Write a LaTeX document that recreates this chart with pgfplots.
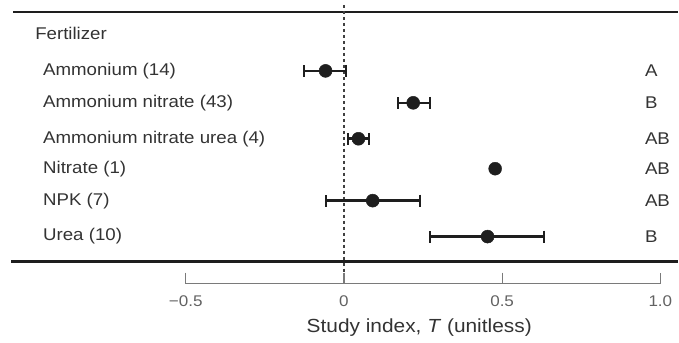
\documentclass[border=0pt]{standalone}
\usepackage{fontspec}
\setmainfont[FakeStretch=1.1]{Liberation Sans}
\usepackage{pgfplots}
\usepackage{pgfplotstable}
\pgfplotsset{compat=1.18}
\definecolor{ink}{HTML}{1E1E1E}
\definecolor{txt}{HTML}{333333}
\definecolor{tick}{HTML}{7A7A7A}
\pgfplotstableread{
x y ep em
-0.058 71 0.065 0.068
0.219 103 0.054 0.047
0.046 139 0.034 0.032
0.091 201 0.149 0.147
0.454 237 0.178 0.182
}\withci
\pgfplotstableread{
x y
0.478 169
}\noci
\begin{document}
\begin{tikzpicture}
\begin{axis}[
  scale only axis, width=679pt, height=343pt,
  xmin=-1.0868, xmax=1.0552, ymin=0, ymax=343, y dir=reverse,
  axis lines=none, clip=false,
]
\path (rel axis cs:0,0) rectangle (rel axis cs:1,1);
% rules
\draw[ink, line width=2.4pt] (axis cs:-1.045,12) -- (axis cs:1.0552,12);
\draw[ink, line width=2.4pt] (axis cs:-1.052,262) -- (axis cs:1.0552,262);
% zero line
\draw[ink!85, line width=1.3pt, dash pattern=on 3.5pt off 2.5pt] (axis cs:0,5) -- (axis cs:0,285);
% bottom scale
\draw[tick, line width=1.2pt] (axis cs:-0.5,273) -- (axis cs:-0.5,284) -- (axis cs:1.0,284) -- (axis cs:1.0,273);
\draw[tick, line width=1.2pt] (axis cs:0,273) -- (axis cs:0,284);
\draw[tick, line width=1.2pt] (axis cs:0.5,273) -- (axis cs:0.5,284);
\foreach \v/\t in {-0.5/{−0.5},0/0,0.5/0.5,1.0/1.0}{
  \edef\temp{\noexpand\node[text=tick!80!black, font=\noexpand\fontsize{15.5}{17}\noexpand\selectfont, anchor=center] at (axis cs:\v,302) {\t};}
  \temp
}
\node[text=txt, font=\fontsize{19}{22}\selectfont] at (axis cs:0.238,328) {Study index, \textit{T} (unitless)};
% row labels
\begin{scope}[every node/.style={text=txt, font=\fontsize{17}{20}\selectfont, anchor=west, inner sep=0pt}]
\node at (axis cs:-0.976,33) {Fertilizer};
\node at (axis cs:-0.951,71) {Ammonium (14)};
\node at (axis cs:-0.951,103) {Ammonium nitrate (43)};
\node at (axis cs:-0.951,139) {Ammonium nitrate urea (4)};
\node at (axis cs:-0.951,169) {Nitrate (1)};
\node at (axis cs:-0.951,201) {NPK (7)};
\node at (axis cs:-0.951,237) {Urea (10)};
\node at (axis cs:0.951,71) {A};
\node at (axis cs:0.951,103) {B};
\node at (axis cs:0.951,139) {AB};
\node at (axis cs:0.951,169) {AB};
\node at (axis cs:0.951,201) {AB};
\node at (axis cs:0.951,237) {B};
\end{scope}
% data
\addplot[ink, line width=2.2pt, mark=*, mark size=6.5pt, mark options={fill=ink, draw=ink, line width=0.5pt}, only marks,
  error bars/.cd, x dir=both, x explicit,
  error mark=|,
  error bar style={line width=2.6pt, draw=ink},
  error mark options={line width=2.2pt, mark size=6pt, draw=ink}]
  table[x=x, y=y, x error plus=ep, x error minus=em] {\withci};
\addplot[ink, only marks, mark=*, mark size=6.5pt, mark options={fill=ink, draw=ink}] table[x=x,y=y] {\noci};
\end{axis}
\end{tikzpicture}
\end{document}
